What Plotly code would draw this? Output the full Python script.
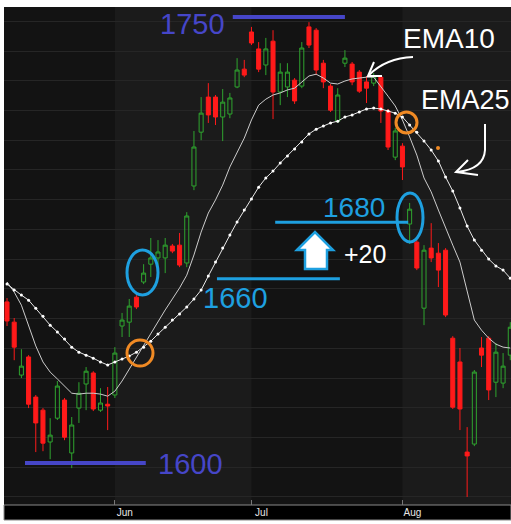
import plotly.graph_objects as go

# ---------------- data ----------------
sessions = list(range(71))          # trading sessions, May -> Aug
month_labels = ["Jun", "Jul", "Aug"]
month_first_session = [15, 34, 55]

opens = [1654.2, 1647.4, 1629.6, 1635.7, 1622.2, 1617.8, 1607.1, 1615.1, 1621.2, 1603.4,
         1618.5, 1626.6, 1630.3, 1617.8, 1619.8, 1622.9, 1646.1, 1647.4, 1655.8, 1660.9,
         1666.9, 1669.0, 1669.0, 1673.0, 1673.3, 1667.3, 1693.2, 1711.3, 1723.1, 1723.1,
         1716.4, 1717.4, 1726.5, 1732.5, 1745.0, 1739.3, 1733.9, 1741.9, 1724.8, 1726.5,
         1728.8, 1726.8, 1746.7, 1745.6, 1734.5, 1726.8, 1715.0, 1734.5, 1734.2, 1731.5,
         1728.2, 1727.8, 1729.8, 1718.4, 1702.9, 1706.6, 1680.4, 1674.3, 1652.1, 1672.3,
         1670.6, 1671.6, 1642.0, 1634.0, 1603.7, 1606.4, 1638.7, 1642.0, 1627.2, 1626.9,
         1636.3]
highs = [1655.5, 1648.8, 1638.3, 1636.3, 1622.9, 1618.5, 1615.1, 1627.6, 1621.9, 1615.5,
         1627.2, 1632.3, 1630.9, 1625.2, 1625.6, 1639.0, 1650.5, 1655.2, 1656.5, 1666.9,
         1675.7, 1675.0, 1675.7, 1673.7, 1677.4, 1684.4, 1711.7, 1723.1, 1727.8, 1723.8,
         1725.8, 1724.5, 1736.2, 1735.6, 1746.7, 1741.6, 1743.0, 1745.6, 1734.5, 1734.5,
         1729.5, 1741.6, 1748.3, 1746.3, 1735.6, 1727.5, 1726.1, 1738.9, 1734.9, 1732.2,
         1730.2, 1731.2, 1730.5, 1719.1, 1712.7, 1707.6, 1687.5, 1675.0, 1673.3, 1680.7,
         1674.0, 1672.3, 1642.7, 1638.7, 1612.1, 1631.3, 1642.4, 1642.7, 1640.4, 1637.0,
         1647.4]
lows = [1646.1, 1634.6, 1628.6, 1618.5, 1603.7, 1604.0, 1601.3, 1614.5, 1607.7, 1598.3,
        1613.5, 1617.8, 1617.5, 1617.2, 1611.1, 1621.9, 1642.4, 1642.4, 1651.8, 1660.2,
        1662.6, 1664.9, 1663.9, 1670.6, 1665.9, 1665.9, 1691.8, 1708.6, 1714.4, 1713.7,
        1708.3, 1716.0, 1726.1, 1729.8, 1740.6, 1731.5, 1730.5, 1715.7, 1720.4, 1723.1,
        1720.8, 1726.1, 1739.6, 1730.5, 1726.1, 1718.1, 1714.4, 1733.2, 1727.1, 1724.5,
        1721.1, 1726.8, 1714.4, 1705.3, 1701.9, 1695.2, 1673.7, 1664.9, 1646.4, 1667.6,
        1659.2, 1649.1, 1618.2, 1611.1, 1588.6, 1605.7, 1632.3, 1621.2, 1622.2, 1625.2,
        1634.6]
closes = [1647.8, 1639.0, 1632.6, 1619.8, 1613.5, 1606.7, 1609.4, 1625.9, 1608.7, 1612.8,
          1623.5, 1630.9, 1618.2, 1620.2, 1619.2, 1637.0, 1648.1, 1652.8, 1652.5, 1663.9,
          1669.0, 1671.0, 1673.3, 1671.3, 1666.6, 1683.1, 1706.3, 1717.7, 1717.1, 1716.4,
          1721.4, 1722.8, 1732.2, 1730.5, 1741.3, 1732.5, 1739.3, 1724.8, 1731.5, 1731.5,
          1721.8, 1739.6, 1740.6, 1732.2, 1728.2, 1718.7, 1723.8, 1736.2, 1728.2, 1725.1,
          1726.1, 1730.2, 1718.4, 1706.3, 1711.7, 1699.6, 1685.4, 1665.6, 1671.6, 1669.0,
          1664.9, 1649.8, 1618.8, 1618.2, 1602.4, 1630.6, 1636.3, 1624.6, 1637.3, 1632.6,
          1645.7]
ema10 = [1660.9, 1657.5, 1653.1, 1646.1, 1639.4, 1634.0, 1630.6, 1628.3, 1625.9, 1623.5,
         1623.2, 1623.5, 1623.5, 1623.2, 1622.5, 1624.2, 1627.6, 1631.6, 1635.7, 1639.4,
         1643.7, 1647.8, 1651.5, 1655.2, 1658.9, 1663.2, 1670.0, 1677.7, 1684.1, 1688.5,
         1693.5, 1699.6, 1704.6, 1709.3, 1715.4, 1720.4, 1722.4, 1723.8, 1724.5, 1725.5,
         1726.1, 1728.2, 1730.2, 1730.8, 1729.5, 1727.8, 1727.5, 1728.5, 1729.2, 1729.5,
         1729.8, 1729.8, 1726.8, 1723.4, 1720.1, 1715.4, 1709.7, 1703.6, 1695.9, 1691.2,
         1685.1, 1679.0, 1673.3, 1667.6, 1657.5, 1648.1, 1644.7, 1642.0, 1640.0, 1639.0,
         1638.7]
ema25 = [1660.2, 1658.2, 1656.5, 1654.8, 1652.1, 1649.4, 1646.4, 1644.1, 1641.7, 1639.0,
         1637.3, 1636.3, 1635.3, 1634.0, 1633.0, 1634.0, 1635.0, 1636.0, 1637.3, 1639.0,
         1641.0, 1643.4, 1645.7, 1648.1, 1650.1, 1652.5, 1655.2, 1658.2, 1662.9, 1667.6,
         1672.3, 1676.7, 1681.1, 1685.1, 1688.8, 1692.8, 1695.9, 1698.2, 1700.9, 1703.3,
         1705.6, 1708.0, 1710.7, 1712.3, 1713.4, 1714.4, 1715.0, 1716.4, 1717.1, 1718.1,
         1719.1, 1719.4, 1719.1, 1718.4, 1717.7, 1716.4, 1713.7, 1711.3, 1708.3, 1705.3,
         1701.6, 1696.2, 1691.5, 1685.8, 1679.7, 1675.0, 1671.6, 1668.6, 1666.3, 1664.9,
         1662.2]

# annotation levels
levels_dark = [1750, 1600]
levels_light = [1662, 1681]

# ---------------- figure ----------------
W, H = 511, 524
ML, MR, MT, MB = 4, 0, 7, 19
PW, PH = W - ML - MR, H - MT - MB


def pp(x, y):
    """pixel position -> paper coordinates (for decorations only)"""
    return (x - ML) / PW, (MT + PH - y) / PH


DARK = "#4646c8"
LIGHT = "#1ea0e0"
ORANGE = "#f08a24"
FONT = "Liberation Sans, Arial, sans-serif"

fig = go.Figure()
fig.add_trace(go.Candlestick(
    x=sessions, open=opens, high=highs, low=lows, close=closes,
    increasing=dict(line=dict(color="#2fa52f", width=1), fillcolor="rgba(0,0,0,0)"),
    decreasing=dict(line=dict(color="#ff1a1a", width=1), fillcolor="#ff1a1a"),
    whiskerwidth=0, hoverinfo="skip", showlegend=False))
fig.add_trace(go.Scatter(x=sessions, y=ema10, mode="lines",
                         line=dict(color="#cccccc", width=1), hoverinfo="skip",
                         showlegend=False))
fig.add_trace(go.Scatter(x=sessions, y=ema25, mode="lines+markers",
                         line=dict(color="#e8e8e8", width=1),
                         marker=dict(color="#ffffff", size=3), hoverinfo="skip",
                         showlegend=False))

shapes = []
# lighter month bands (June, August)
shapes.append(dict(type="rect", xref="x", yref="paper", x0=month_first_session[0],
                   x1=month_first_session[1], y0=0, y1=1, fillcolor="#1b1b1b",
                   line=dict(width=0), layer="below"))
shapes.append(dict(type="rect", xref="x", yref="paper", x0=month_first_session[2],
                   x1=75, y0=0, y1=1, fillcolor="#1b1b1b",
                   line=dict(width=0), layer="below"))
# axis label band
shapes.append(dict(type="rect", xref="paper", yref="paper", x0=0, x1=1,
                   y0=pp(0, 520)[1], y1=0, fillcolor="#000000",
                   line=dict(color="#8a8a8a", width=1), layer="below"))

# level lines
shapes.append(dict(type="line", xref="x", yref="y", x0=31.4, x1=47.0,
                   y0=levels_dark[0], y1=levels_dark[0], line=dict(color=DARK, width=4)))
shapes.append(dict(type="line", xref="x", yref="y", x0=2.5, x1=19.3,
                   y0=levels_dark[1], y1=levels_dark[1], line=dict(color=DARK, width=4)))
shapes.append(dict(type="line", xref="x", yref="y", x0=29.2, x1=46.3,
                   y0=levels_light[0], y1=levels_light[0], line=dict(color=LIGHT, width=3)))
shapes.append(dict(type="line", xref="x", yref="y", x0=37.3, x1=55.8,
                   y0=levels_light[1], y1=levels_light[1], line=dict(color=LIGHT, width=3)))


def ellipse(x0, y0, x1, y1, color, width):
    a = pp(x0, y1)
    b = pp(x1, y0)
    return dict(type="circle", xref="paper", yref="paper", x0=a[0], y0=a[1],
                x1=b[0], y1=b[1], line=dict(color=color, width=width))


shapes.append(ellipse(127, 250, 158, 295, LIGHT, 3))
shapes.append(ellipse(397, 193, 423, 242, LIGHT, 3))
shapes.append(ellipse(127, 340, 153, 366, ORANGE, 3))
shapes.append(ellipse(396, 112, 417, 133, ORANGE, 3))
d = pp(436, 146)
e = pp(440, 150)
shapes.append(dict(type="circle", xref="paper", yref="paper", x0=d[0], y0=e[1],
                   x1=e[0], y1=d[1], fillcolor=ORANGE, line=dict(width=0)))


def path(cmds):
    out = []
    for c in cmds:
        if isinstance(c, str):
            out.append(c)
        else:
            x, y = pp(*c)
            out.append(f"{x:.5f},{y:.5f}")
    return " ".join(out)


# up arrow
shapes.append(dict(type="path", xref="paper", yref="paper",
                   path=path(["M", (297, 250), "L", (315, 232), "L", (333, 250), "L", (327, 250),
                              "L", (327, 269), "L", (305, 269), "L", (305, 250), "Z"]),
                   fillcolor="#ffffff", line=dict(color=LIGHT, width=2.5)))
# EMA10 hand arrow
shapes.append(dict(type="path", xref="paper", yref="paper",
                   path=path(["M", (413, 57), "Q", (386, 58), (369, 75)]),
                   line=dict(color="#ffffff", width=2)))
shapes.append(dict(type="path", xref="paper", yref="paper",
                   path=path(["M", (374, 62), "L", (368, 76), "L", (382, 76)]),
                   line=dict(color="#ffffff", width=2)))
# EMA25 hand arrow
shapes.append(dict(type="path", xref="paper", yref="paper",
                   path=path(["M", (485, 124), "L", (485, 150), "Q", (484, 169), (457, 172)]),
                   line=dict(color="#ffffff", width=2)))
shapes.append(dict(type="path", xref="paper", yref="paper",
                   path=path(["M", (468, 160), "L", (456, 172), "L", (478, 175)]),
                   line=dict(color="#ffffff", width=2)))

annotations = []


def text(s, x, y, size, color):
    ax, ay = pp(x, y)
    annotations.append(dict(text=s, x=ax, y=ay, xref="paper", yref="paper",
                            xanchor="left", yanchor="middle", showarrow=False,
                            font=dict(family=FONT, size=size, color=color)))


text(str(levels_dark[0]), 158, 24, 29, DARK)
text(str(levels_dark[1]), 156, 464, 29, DARK)
text("1660", 201, 298, 29, LIGHT)
text("1680", 321, 207, 28, LIGHT)
text("+20", 342, 254, 25, "#ffffff")
text("EMA10", 401, 38, 28, "#ffffff")
text("EMA25", 419, 100, 27, "#ffffff")

fig.update_layout(
    width=W, height=H,
    margin=dict(l=ML, r=MR, t=MT, b=MB, pad=0),
    paper_bgcolor="#ffffff",
    plot_bgcolor="#131313",
    shapes=shapes,
    annotations=annotations,
    showlegend=False,
    hovermode=False,
    boxgap=0.2,
    xaxis=dict(range=[-0.42, 70.1], tickmode="array", tickvals=month_first_session,
               ticktext=month_labels, ticks="inside", ticklen=5, tickcolor="#777777",
               tickfont=dict(family=FONT, size=10, color="#e6e6e6"),
               ticklabelshift=10, showgrid=False, zeroline=False, showline=False,
               rangeslider=dict(visible=False), fixedrange=True),
    yaxis=dict(range=[1585.9, 1753.4], showticklabels=False, tick0=1598.6, dtick=10,
               gridcolor="#262626", gridwidth=1, zeroline=False, showline=False,
               ticks="", fixedrange=True),
)

fig.write_html("out.html", config={"displayModeBar": False},
               post_script="document.body.style.margin='0';document.body.style.overflow='hidden';")
